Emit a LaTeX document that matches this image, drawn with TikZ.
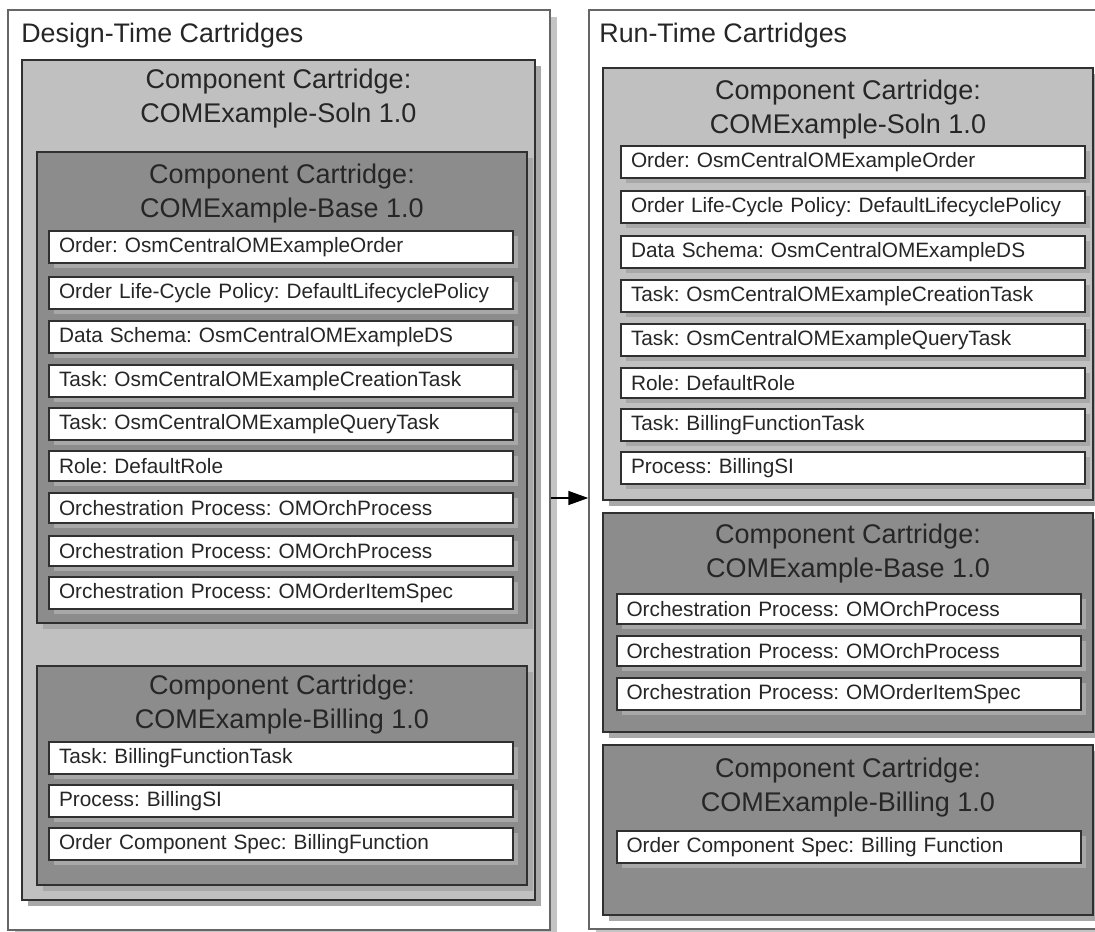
\documentclass[tikz,border=0pt]{standalone}
\usepackage{fontspec}
\setmainfont{Liberation Sans}
\usetikzlibrary{arrows.meta,shadows}
\frenchspacing
\definecolor{solngray}{HTML}{C0C0C0}
\definecolor{basegray}{HTML}{8C8C8C}
\definecolor{shd}{HTML}{A8A8A8}
\definecolor{paneshd}{HTML}{C4C4C4}
\definecolor{edge}{HTML}{303030}
\tikzset{
  panebox/.style={draw=black!60,line width=0.75pt,fill=white,inner sep=0pt,drop shadow={shadow xshift=3.5pt,shadow yshift=-3.5pt,fill=paneshd,opacity=1}},
  solnbox/.style={draw=edge,line width=1pt,fill=solngray,inner sep=0pt,drop shadow={shadow xshift=3pt,shadow yshift=-3pt,fill=shd,opacity=1}},
  basebox/.style={solnbox,fill=basegray},
  itm/.style={draw=edge,line width=1pt,fill=white,text width=222pt,inner xsep=5pt,minimum height=15pt,align=left,font=\fontsize{10.4}{11}\selectfont,text=black!85,drop shadow={shadow xshift=2.5pt,shadow yshift=-2.5pt,fill=shd,opacity=1}},
  hd/.style={align=center,font=\fontsize{13.5}{17}\selectfont,text=black!85},
  ttl/.style={anchor=west,inner sep=0pt,font=\fontsize{13.4}{15}\selectfont,text=black!85},
  flow/.style={line width=0.75pt,-{Triangle[length=10pt,width=7pt]}}
}

\begin{document}
\begin{tikzpicture}[x=0.5pt,y=-0.5pt]
\clip (0,0) rectangle (1095,931);
\fill[white] (0,0) rectangle (1095,931);
% design-time side
\node[panebox,minimum width=271pt,minimum height=460pt] (lpane) at (279,470) {};
\node[ttl] (ltitle) at (21,36) {Design-Time Cartridges};
\node[solnbox,minimum width=256.5pt,minimum height=420pt] (lsoln) at (278.5,480) {};
\node[hd] (lsolnhd) at (278.5,99) {Component Cartridge:\\COMExample-Soln 1.0};
\node[basebox,minimum width=245pt,minimum height=235.5pt] (lbase) at (282,387.5) {};
\node[hd] (lbasehd) at (282,193.5) {Component Cartridge:\\COMExample-Base 1.0};
\foreach \y/\t [count=\i] in {247/{Order: OsmCentralOMExampleOrder},293/{Order Life-Cycle Policy: DefaultLifecyclePolicy},337/{Data Schema: OsmCentralOMExampleDS},381/{Task: OsmCentralOMExampleCreationTask},424/{Task: OsmCentralOMExampleQueryTask},466/{Role: DefaultRole},508/{Orchestration Process: OMOrchProcess},551/{Orchestration Process: OMOrchProcess},593/{Orchestration Process: OMOrderItemSpec}}
  \node[itm] (lb\i) at (281,\y) {\t};
\node[basebox,minimum width=245pt,minimum height=109.5pt] (lbill) at (282,775.5) {};
\node[hd] (lbillhd) at (282,705) {Component Cartridge:\\COMExample-Billing 1.0};
\foreach \y/\t [count=\i] in {758/{Task: BillingFunctionTask},801/{Process: BillingSI},844/{Order Component Spec: BillingFunction}}
  \node[itm] (ll\i) at (281,\y) {\t};
% run-time side
\node[panebox,minimum width=260pt,minimum height=459.5pt] (rpane) at (849,469.5) {};
\node[ttl] (rtitle) at (599,36) {Run-Time Cartridges};
\node[solnbox,minimum width=245pt,minimum height=216pt] (rsoln) at (848,284) {};
\node[hd] (rsolnhd) at (848,110) {Component Cartridge:\\COMExample-Soln 1.0};
\foreach \y/\t [count=\i] in {162/{Order: OsmCentralOMExampleOrder},207/{Order Life-Cycle Policy: DefaultLifecyclePolicy},252/{Data Schema: OsmCentralOMExampleDS},296/{Task: OsmCentralOMExampleCreationTask},340/{Task: OsmCentralOMExampleQueryTask},383/{Role: DefaultRole},425/{Task: BillingFunctionTask},468/{Process: BillingSI}}
  \node[itm] (rs\i) at (853,\y) {\t};
\node[basebox,minimum width=245pt,minimum height=109.5pt] (rbase) at (848,622.5) {};
\node[hd] (rbasehd) at (848,553.5) {Component Cartridge:\\COMExample-Base 1.0};
\foreach \y/\t [count=\i] in {609/{Orchestration Process: OMOrchProcess},651/{Orchestration Process: OMOrchProcess},694/{Orchestration Process: OMOrderItemSpec}}
  \node[itm] (rb\i) at (848.5,\y) {\t};
\node[basebox,minimum width=245pt,minimum height=85pt] (rbill) at (848,830) {};
\node[hd] (rbillhd) at (848,788) {Component Cartridge:\\COMExample-Billing 1.0};
\node[itm] (rl1) at (848.5,847) {Order Component Spec: Billing Function};
% deploy
\coordinate (hop) at (0,498);
\draw[flow] (lpane.east |- hop) -- (rpane.west |- hop);
\end{tikzpicture}
\end{document}
